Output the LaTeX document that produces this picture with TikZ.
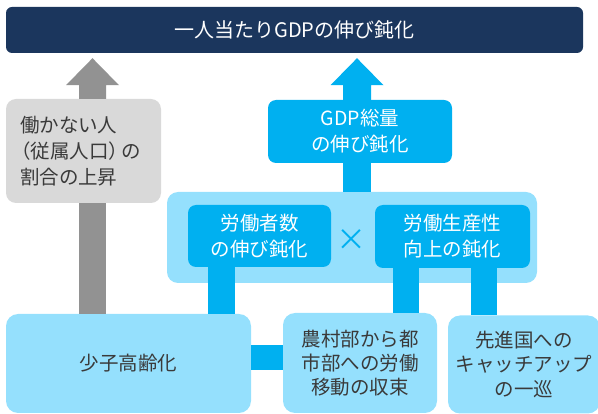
\documentclass[tikz,border=0pt]{standalone}
\usepackage{fontspec}
\setmainfont{Noto Sans CJK JP}
\usetikzlibrary{calc}
\definecolor{navy}{HTML}{1B365D}
\definecolor{boxgray}{HTML}{D9D9D9}
\definecolor{arrgray}{HTML}{929292}
\definecolor{cyanb}{HTML}{00B0F0}
\definecolor{lightb}{HTML}{95E0FD}
\definecolor{txt}{HTML}{3A3A3A}
\tikzset{
  base/.style={draw=none, inner sep=0pt, align=center, font=\fontsize{19.5}{26}\selectfont},
  navybox/.style={base, fill=navy, text=white, rounded corners=6pt, font=\fontsize{20}{26}\selectfont},
  greybox/.style={base, fill=boxgray, text=txt, rounded corners=10pt},
  bluebox/.style={base, fill=cyanb, text=white, rounded corners=8pt},
  lightbox/.style={base, fill=lightb, text=txt, rounded corners=12pt},
  bigbox/.style={base, fill=lightb, rounded corners=11pt},
  cshaft/.style={draw=cyanb},
  gshaft/.style={draw=arrgray}
}
\begin{document}
\begin{tikzpicture}[x=1pt,y=-1pt]
\useasboundingbox (0,0) rectangle (598,414);
% nodes
\node[navybox, minimum width=577pt, minimum height=46pt] (top) at (294.5,30) {一人当たりGDPの伸び鈍化};
\node[greybox, minimum width=155pt, minimum height=104pt, text width=127pt, align=left] (grey) at (83.5,151)
  {働かない人\\\hspace*{-9pt}（従属人口）\hspace*{-7pt}の\\割合の上昇};
\node[bluebox, minimum width=184pt, minimum height=63pt] (gdp) at (360,131.5) {GDP総量\\の伸び鈍化};
\node[bigbox, minimum width=370pt, minimum height=91pt] (big) at (352,237.5) {};
\node[bluebox, minimum width=143pt, minimum height=62pt] (lab) at (259.5,236) {労働者数\\の伸び鈍化};
\node[bluebox, minimum width=155pt, minimum height=63pt] (prod) at (452.5,236.5) {労働生産性\\向上の鈍化};
\node[base, text=cyanb, font=\fontsize{30}{30}\selectfont] (times) at (351.5,240) {×};
\node[lightbox, minimum width=245pt, minimum height=99pt] (aging) at (128.5,363.5) {少子高齢化};
\node[lightbox, minimum width=154pt, minimum height=100pt, font=\fontsize{19.5}{24}\selectfont] (rural) at (360,363) {農村部から都\\市部への労働\\移動の収束};
\node[lightbox, minimum width=152pt, minimum height=98pt, font=\fontsize{19.5}{24.5}\selectfont] (catch) at (524,364.5) {先進国への\\キャッチアップ\\の一巡};
% x positions of connectors
\coordinate (gx) at (92.5,0);
\coordinate (bx) at (357,0);
\coordinate (s1) at (221.5,0);
\coordinate (s2) at (406,0);
\coordinate (s3) at (484,0);
\coordinate (hy) at (0,357.5);
% grey block arrow
\fill[arrgray] ($(grey.north -| gx)+(-13.5,0)$) -- ($(top.south -| gx)+(-13.5,32)$) -- ($(top.south -| gx)+(-26.5,32)$)
  -- ($(top.south -| gx)+(0,5)$) -- ($(top.south -| gx)+(26.5,32)$) -- ($(top.south -| gx)+(13.5,32)$)
  -- ($(grey.north -| gx)+(13.5,0)$) -- cycle;
% blue block arrow
\fill[cyanb] ($(gdp.north -| bx)+(-14,0)$) -- ($(top.south -| bx)+(-14,32)$) -- ($(top.south -| bx)+(-26.5,32)$)
  -- ($(top.south -| bx)+(0,5)$) -- ($(top.south -| bx)+(26.5,32)$) -- ($(top.south -| bx)+(14,32)$)
  -- ($(gdp.north -| bx)+(14,0)$) -- cycle;
% shafts
\draw[gshaft, line width=27pt] (grey.south -| gx) -- (aging.north -| gx);
\draw[cshaft, line width=28pt] (gdp.south -| bx) -- (big.north -| bx);
\draw[cshaft, line width=27pt] (lab.south -| s1) -- (aging.north -| s1);
\draw[cshaft, line width=26pt] (prod.south -| s2) -- (rural.north -| s2);
\draw[cshaft, line width=26pt] (prod.south -| s3) -- (catch.north -| s3);
\draw[cshaft, line width=25pt] (aging.east |- hy) -- (rural.west |- hy);
\end{tikzpicture}
\end{document}
